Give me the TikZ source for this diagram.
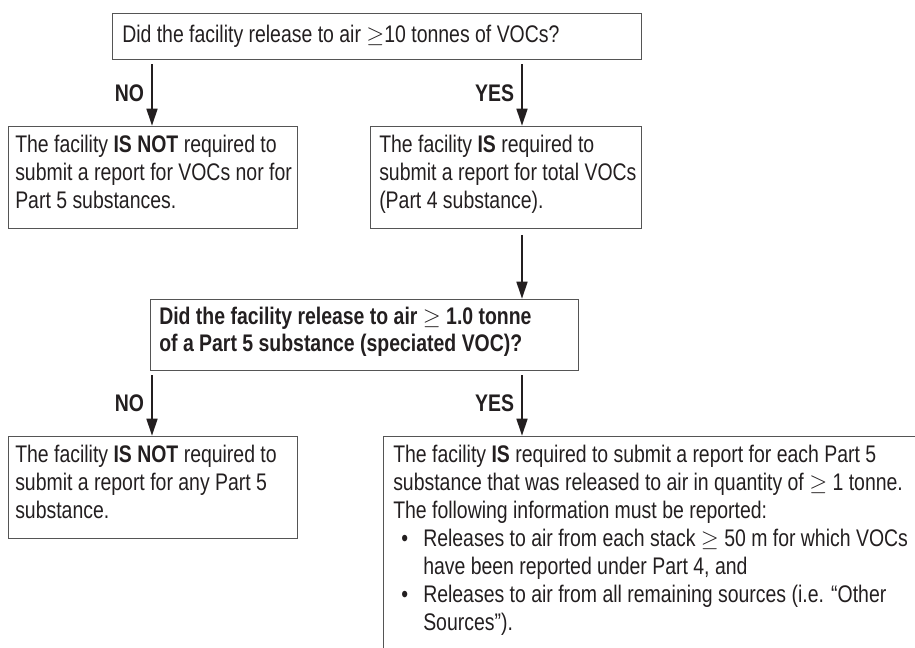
\documentclass[tikz,border=0pt]{standalone}
\usepackage{fontspec}
\setmainfont[FakeStretch=0.81]{Liberation Sans}
\usetikzlibrary{arrows.meta}

\definecolor{inkgray}{HTML}{231F20}
\definecolor{rulegray}{HTML}{555555}

\begin{document}
\begin{tikzpicture}[x=0.75pt, y=-0.75pt,
    box/.style={draw=rulegray, line width=1.1pt, anchor=north west, inner sep=0pt},
    txt/.style={anchor=north west, align=left, inner sep=0pt, text=inkgray,
      font=\fontsize{18}{21}\selectfont},
    lbl/.style={font=\fontsize{18}{21}\selectfont\bfseries, text=inkgray, inner sep=5pt},
    arr/.style={draw=inkgray, line width=1.9pt, -{Triangle[width=8pt,length=13pt]}}]
  \clip (0,0) rectangle (915,648);

  \coordinate (nox) at (152,0);
  \coordinate (yesx) at (522,0);

  % boxes
  \node[box, minimum width=396.75pt, minimum height=34.5pt] (q1) at (112,13) {};
  \node[box, minimum width=216.75pt, minimum height=76.5pt] (nope1) at (8,126) {};
  \node[box, minimum width=203.25pt, minimum height=76.5pt] (yes1) at (370,126) {};
  \node[box, minimum width=321pt, minimum height=53.25pt] (q2) at (150,299) {};
  \node[box, minimum width=216.75pt, minimum height=76.5pt] (nope2) at (8,436) {};
  \node[box, minimum width=420pt, minimum height=225pt] (yes2) at (383,436) {};

  % texts
  \node[txt, anchor=west] (q1txt) at ([xshift=7.5pt]q1.west)
    {Did the facility release to air $\geq$10 tonnes of VOCs?};
  \node[txt] (nope1txt) at ([shift={(7,9)}]nope1.north west)
    {The facility \textbf{IS NOT} required to\\submit a report for VOCs nor for\\Part 5 substances.};
  \node[txt] (yes1txt) at ([shift={(9,9)}]yes1.north west)
    {The facility \textbf{IS} required to\\submit a report for total VOCs\\(Part 4 substance).};
  \node[txt, font=\fontsize{18}{20}\selectfont\bfseries] (q2txt) at ([shift={(9,8)}]q2.north west)
    {Did the facility release to air $\geq$ 1.0 tonne\\of a Part 5 substance (speciated VOC)?};
  \node[txt] (nope2txt) at ([shift={(7,9)}]nope2.north west)
    {The facility \textbf{IS NOT} required to\\submit a report for any Part 5\\substance.};
  \node[txt] (yes2txt) at ([shift={(10,9)}]yes2.north west)
    {The facility \textbf{IS} required to submit a report for each Part 5\\
     substance that was released to air in quantity of $\geq$ 1 tonne.\\
     The following information must be reported:\\
     \makebox[22.5pt][l]{\hspace*{6pt}•}Releases to air from each stack $\geq$ 50 m for which VOCs\\
     \hspace*{22.5pt}have been reported under Part 4, and\\
     \makebox[22.5pt][l]{\hspace*{6pt}•}Releases to air from all remaining sources (i.e. “Other\\
     \hspace*{22.5pt}Sources”).};

  % arrows
  \foreach \src/\dst/\x/\ans in {q1/nope1/nox/NO, q1/yes1/yesx/YES,
                                 q2/nope2/nox/NO, q2/yes2/yesx/YES}{
    \draw[arr, shorten <=3pt] (\src.south -| \x) -- node[left, lbl] {\ans} (\dst.north -| \x);
  }
  \draw[arr, shorten <=4pt] (yes1.south -| yesx) -- (q2.north -| yesx);
\end{tikzpicture}
\end{document}
